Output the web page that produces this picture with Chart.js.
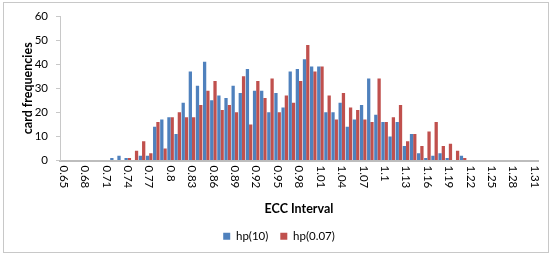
<!DOCTYPE html>
<html>
<head>
<meta charset="utf-8">
<script src="https://cdn.jsdelivr.net/npm/chart.js@4"></script>
<style>
  html, body { margin: 0; padding: 0; background: #fff; }
  #wrap { width: 552px; height: 256px; position: relative; }
</style>
</head>
<body>
<div id="wrap"><canvas id="eccChart" width="552" height="256"></canvas></div>
<script>
// ECC interval categories
const categories = [
    '0.65', '0.66', '0.67', '0.68', '0.69', '0.7', '0.71', '0.72', '0.73', '0.74',
    '0.75', '0.76', '0.77', '0.78', '0.79', '0.8', '0.81', '0.82', '0.83', '0.84',
    '0.85', '0.86', '0.87', '0.88', '0.89', '0.9', '0.91', '0.92', '0.93', '0.94',
    '0.95', '0.96', '0.97', '0.98', '0.99', '1', '1.01', '1.02', '1.03', '1.04',
    '1.05', '1.06', '1.07', '1.08', '1.09', '1.1', '1.11', '1.12', '1.13', '1.14',
    '1.15', '1.16', '1.17', '1.18', '1.19', '1.2', '1.21', '1.22', '1.23', '1.24',
    '1.25', '1.26', '1.27', '1.28', '1.29', '1.3', '1.31'
];

const hp10 = [
    0, 0, 0, 0, 0, 0, 0, 1, 2, 1,
    0, 2, 2, 14, 17, 18, 11, 24, 37, 31,
    41, 25, 27, 26, 31, 28, 38, 29, 29, 20,
    28, 22, 37, 38, 42, 39, 39, 20, 20, 24,
    14, 17, 23, 34, 19, 16, 10, 16, 6, 11,
    3, 1, 2, 3, 1, 0, 2, 0, 0, 0,
    0, 0, 0, 0, 0, 0, 0
];

const hp007 = [
    0, 0, 0, 0, 0, 0, 0, 0, 0, 1,
    4, 8, 3, 16, 5, 18, 20, 18, 18, 23,
    29, 33, 21, 23, 20, 35, 15, 33, 26, 34,
    20, 27, 24, 33, 48, 37, 39, 27, 17, 28,
    22, 21, 17, 16, 34, 16, 18, 23, 8, 11,
    6, 12, 16, 6, 7, 4, 1, 0, 0, 0,
    0, 0, 0, 0, 0, 0, 0
];

const yTicks = [0, 10, 20, 30, 40, 50, 60];
const labelEvery = 3;

const FONT = "Lato, 'Open Sans', sans-serif";

// outer frame round the whole chart
const framePlugin = {
    id: 'frame',
    beforeDraw(chart) {
        const ctx = chart.ctx;
        ctx.save();
        ctx.fillStyle = '#fff';
        ctx.fillRect(0, 0, chart.width, chart.height);
        ctx.strokeStyle = '#c8c8c8';
        ctx.lineWidth = 1;
        ctx.strokeRect(3.5, 2.5, 545, 250);
        ctx.restore();
    }
};

// x labels read top to bottom (rotated clockwise), like the original
const xLabelPlugin = {
    id: 'xLabels',
    afterDraw(chart) {
        const ctx = chart.ctx;
        const xScale = chart.scales.x;
        ctx.save();
        ctx.fillStyle = '#000';
        ctx.font = '11.5px ' + FONT;
        ctx.textAlign = 'left';
        ctx.textBaseline = 'middle';
        categories.forEach((c, i) => {
            if (i % labelEvery !== 0) return;
            const x = xScale.getPixelForValue(i);
            ctx.save();
            ctx.translate(x, chart.chartArea.bottom + 5);
            ctx.rotate(Math.PI / 2);
            ctx.fillText(c, 0, 0);
            ctx.restore();
        });
        ctx.restore();
    }
};

const ctx = document.getElementById('eccChart').getContext('2d');
new Chart(ctx, {
    type: 'bar',
    data: {
        labels: categories,
        datasets: [{
            label: 'hp(10)',
            data: hp10,
            backgroundColor: '#4F81BD',
            borderWidth: 0,
        }, {
            label: 'hp(0.07)',
            data: hp007,
            backgroundColor: '#C0504D',
            borderWidth: 0,
        }]
    },
    options: {
        responsive: false,
        animation: false,
        devicePixelRatio: 1,
        layout: {
            padding: { left: 20, right: 14, top: 16, bottom: 4 }
        },
        datasets: {
            bar: {
                categoryPercentage: 0.92,
                barPercentage: 1.0,
            }
        },
        plugins: {
            legend: {
                position: 'bottom',
                labels: {
                    boxWidth: 7,
                    boxHeight: 7,
                    padding: 12,
                    color: '#000',
                    font: { family: FONT, size: 11.5 },
                }
            },
            tooltip: { enabled: false },
        },
        scales: {
            x: {
                grid: { display: false },
                border: { display: true, color: '#bdbdbd', width: 2 },
                ticks: {
                    autoSkip: false,
                    maxRotation: 90,
                    minRotation: 90,
                    color: 'transparent',
                    font: { family: FONT, size: 11 },
                    callback: (v, i) => (i % labelEvery === 0 ? categories[i] : null),
                },
                title: {
                    display: true,
                    text: 'ECC Interval',
                    color: '#000',
                    font: { family: FONT, size: 12.5, weight: 'bold' },
                    padding: { top: 4, bottom: 2 },
                },
                afterFit(scale) { scale.height = 58; },
            },
            y: {
                min: 0,
                max: 60,
                afterBuildTicks(scale) { scale.ticks = yTicks.map(v => ({ value: v })); },
                grid: {
                    display: true,
                    drawOnChartArea: false,
                    drawTicks: true,
                    tickLength: 4,
                    color: '#c8c8c8',
                },
                border: { display: true, color: '#c8c8c8', width: 1 },
                ticks: {
                    color: '#000',
                    padding: 8,
                    font: { family: FONT, size: 11.5 },
                },
                title: {
                    display: true,
                    text: 'card frequencies',
                    color: '#000',
                    font: { family: FONT, size: 12.5, weight: 'bold' },
                    padding: { top: 0, bottom: 4 },
                },
                afterFit(scale) { scale.width = 40; },
            }
        }
    },
    plugins: [framePlugin, xLabelPlugin]
});
</script>
</body>
</html>
